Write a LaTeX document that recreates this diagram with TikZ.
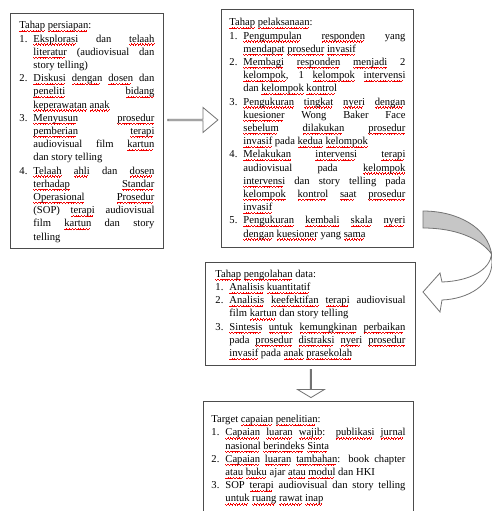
\documentclass[tikz,border=0pt]{standalone}
\usepackage{fontspec}
\setmainfont{Liberation Serif}
\usetikzlibrary{positioning,calc,shapes.arrows}
% red wavy underline under one word
\newcommand\sq[1]{\leavevmode\setbox0=\hbox{#1}\rlap{\color{red!95!black}\leaders\hbox{%
  \vrule height -2.0pt depth 3.0pt width .7pt\vrule height -2.6pt depth 3.6pt width .7pt%
  \vrule height -2.0pt depth 3.0pt width .7pt\vrule height -1.4pt depth 2.4pt width .7pt}\hskip\wd0}\box0\relax}
% box text: width, height, content
\newcommand\isi[3]{\parbox[c][#2][t]{#1}{\fontsize{10.6}{13.2}\selectfont
  \tolerance=10000 \hbadness=10000 \hyphenpenalty=10000 \parindent=0pt #3}}
% numbered item
\newcommand\butir[2]{\par\noindent\hangindent=14pt\hangafter=1\makebox[14pt][l]{#1.}#2}
\tikzset{
  %Define style for boxes
  kotak/.style={
    rectangle,
    draw=black!70, line width=0.9pt,
    text=black,
    anchor=north west,
    inner xsep=9pt, inner ysep=8pt},
  % Define block arrow style
  panah/.style={
    single arrow,
    draw=black!55, line width=0.8pt,
    fill=white,
    inner sep=0pt,
    single arrow head indent=0pt},
  % curved arrow
  lengkung/.style={draw=black!55, line width=0.8pt}
}

\begin{document}
\begin{tikzpicture}[x=1pt,y=-1pt]
  \useasboundingbox (0,0) rectangle (492,511);
  \clip (0,0) rectangle (492,511);

  \node[kotak] (persiapan) at (10,13) {\isi{135pt}{219pt}{%
    \noindent\sq{Tahap} \sq{persiapan}:
    \butir{1}{\sq{Eksplorasi} dan \sq{telaah}\linebreak \sq{literatur} (audiovisual dan\linebreak story telling)}
    \butir{2}{\sq{Diskusi} \sq{dengan} \sq{dosen} dan\linebreak \sq{peneliti} \sq{bidang}\linebreak \sq{keperawatan} \sq{anak}}
    \butir{3}{\sq{Menyusun} \sq{prosedur}\linebreak \sq{pemberian} \sq{terapi}\linebreak audiovisual film \sq{kartun}\linebreak dan story telling}
    \butir{4}{\sq{Telaah} \sq{ahli} dan \sq{dosen}\linebreak \sq{terhadap} \sq{Standar}\linebreak \sq{Operasional} \sq{Prosedur}\linebreak (SOP) \sq{terapi} audiovisual\linebreak film \sq{kartun} dan story\linebreak telling}}};

  \node[kotak, inner xsep=8pt, inner ysep=9pt] (pelaksanaan) at (221,9) {\isi{176pt}{220pt}{%
    \noindent\sq{Tahap} \sq{pelaksanaan}:
    \butir{1}{\sq{Pengumpulan} \sq{responden} yang\linebreak \sq{mendapat} \sq{prosedur} \sq{invasif}}
    \butir{2}{\sq{Membagi} \sq{responden} \sq{menjadi} 2\linebreak \sq{kelompok}, 1 \sq{kelompok} \sq{intervensi}\linebreak dan \sq{kelompok} \sq{kontrol}}
    \butir{3}{\sq{Pengukuran} \sq{tingkat} \sq{nyeri} \sq{dengan}\linebreak \sq{kuesioner} Wong Baker Face\linebreak \sq{sebelum} \sq{dilakukan} \sq{prosedur}\linebreak \sq{invasif} pada \sq{kedua} \sq{kelompok}}
    \butir{4}{\sq{Melakukan} \sq{intervensi} \sq{terapi}\linebreak audiovisual pada \sq{kelompok}\linebreak \sq{intervensi} dan story telling pada\linebreak \sq{kelompok} \sq{kontrol} \sq{saat} \sq{prosedur}\linebreak \sq{invasif}}
    \butir{5}{\sq{Pengukuran} \sq{kembali} \sq{skala} \sq{nyeri}\linebreak \sq{dengan} \sq{kuesioner} yang \sq{sama}}}};

  \node[kotak, inner xsep=10pt, inner ysep=7.5pt] (pengolahan) at (205,262) {\isi{190pt}{88pt}{%
    \noindent\sq{Tahap} \sq{pengolahan} data:
    \butir{1}{\sq{Analisis} \sq{kuantitatif}}
    \butir{2}{\sq{Analisis} \sq{keefektifan} \sq{terapi} audiovisual\linebreak film \sq{kartun} dan story telling}
    \butir{3}{\sq{Sintesis} \sq{untuk} \sq{kemungkinan} \sq{perbaikan}\linebreak pada \sq{prosedur} \sq{distraksi} \sq{nyeri} \sq{prosedur}\linebreak \sq{invasif} pada \sq{anak} \sq{prasekolah}}}};

  \node[kotak, inner xsep=8pt, inner ysep=14pt, below=35pt of pengolahan.south west, anchor=north west, xshift=-2pt] (target) {\isi{194pt}{97pt}{%
    \noindent Target \sq{capaian} \sq{penelitian}:
    \butir{1}{\sq{Capaian} \sq{luaran} \sq{wajib}: \sq{publikasi} \sq{jurnal}\linebreak \sq{nasional} \sq{berindeks} \sq{Sinta}}
    \butir{2}{\sq{Capaian} \sq{luaran} \sq{tambahan}: book chapter\linebreak \sq{atau} \sq{buku} ajar \sq{atau} \sq{modul} dan HKI}
    \butir{3}{SOP \sq{terapi} audiovisual dan story telling\linebreak \sq{untuk} \sq{ruang} \sq{rawat} \sq{inap}}}};

  % block arrows
  \node[panah, minimum height=50pt, minimum width=25pt, single arrow head extend=6.5pt,
    single arrow tip angle=80, yshift=9.75pt] (p1) at ($(persiapan.east)!0.5!(pelaksanaan.west)$) {};
  \node[panah, rotate=-90, minimum height=28pt, minimum width=27pt, single arrow head extend=8.75pt,
    single arrow tip angle=118, yshift=1.5pt] (p3) at ($(pengolahan.south)!0.5!(target.north)$) {};

  % curved arrow
  \filldraw[lengkung, fill=gray!45] (423,211) .. controls (458,211) and (488,228) .. (491.5,254)
    .. controls (480,238) and (455,228) .. (423,228) -- cycle;
  \filldraw[lengkung, fill=white] (491.5,254) .. controls (490,270) and (470,281) .. (442,282)
    -- (440,273) -- (423,292) -- (440,312) -- (442,300)
    .. controls (468,299) and (492,285) .. (492,262) -- cycle;
\end{tikzpicture}
\end{document}
